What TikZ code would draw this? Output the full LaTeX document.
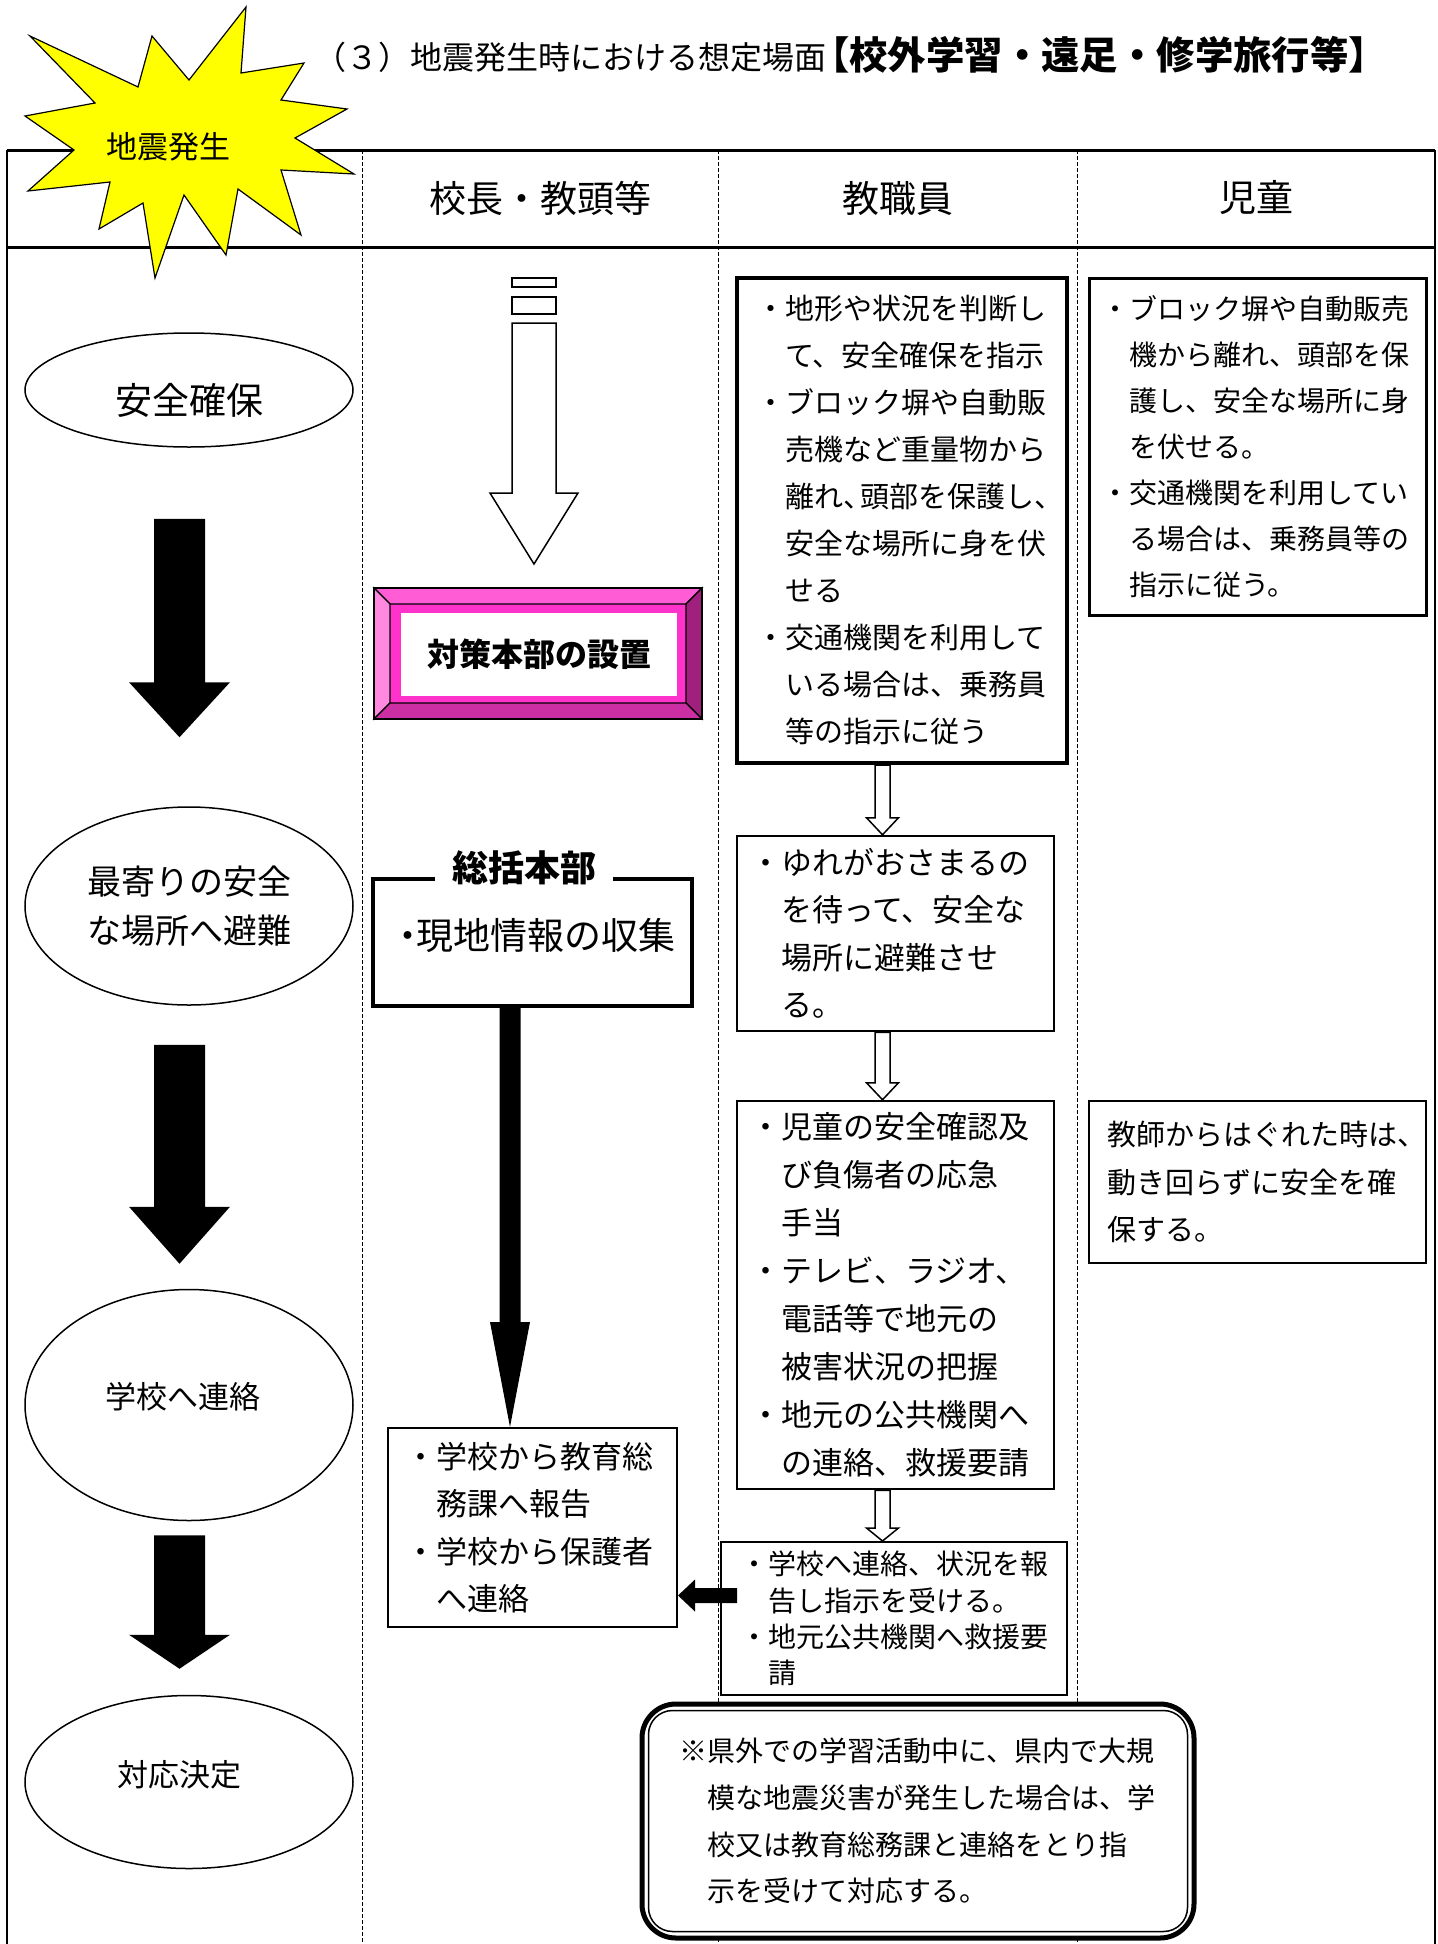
\documentclass[tikz,border=0pt]{standalone}
\usepackage{fontspec}
\setmainfont{Noto Sans CJK JP}
\usetikzlibrary{shapes.geometric,calc}
\definecolor{pkTop}{HTML}{FF5CD6}
\definecolor{pkLeft}{HTML}{FF88E0}
\definecolor{pkRight}{HTML}{A0207E}
\definecolor{pkBot}{HTML}{CC2EA3}
\definecolor{pkFace}{HTML}{FF33CC}
\definecolor{starY}{HTML}{FFFF00}
\newcommand\fs[2]{\fontsize{#1pt}{#2pt}\selectfont}
\newcommand\ind{\hspace*{1em}}
% style, start, end, shaft half, head half, head length
\newcommand\blkdown[6]{%
  \path[#1] let \p1=(#2), \p2=(#3) in
    (\x1-#4,\y1) -- (\x1+#4,\y1) -- (\x1+#4,\y2+#6) -- (\x1+#5,\y2+#6) --
    (\x1,\y2) -- (\x1-#5,\y2+#6) -- (\x1-#4,\y2+#6) -- cycle;}
\newcommand\blkleft[6]{%
  \path[#1] let \p1=(#2), \p2=(#3) in
    (\x1,\y1+#4) -- (\x2+#6,\y1+#4) -- (\x2+#6,\y1+#5) -- (\x2,\y1) --
    (\x2+#6,\y1-#5) -- (\x2+#6,\y1-#4) -- (\x1,\y1-#4) -- cycle;}
\begin{document}
\begin{tikzpicture}[x=0.5pt,y=-0.5pt,
  box/.style={draw, rectangle, align=left, inner ysep=0pt, fill=white},
  ell/.style={ellipse, draw, line width=0.75pt, minimum width=164pt, inner sep=0pt, align=center},
  hdr/.style={font=\fs{18.5}{18.5}},
  sep/.style={line width=0.5pt, dash pattern=on 2pt off 1pt},
  frame/.style={line width=1.3pt},
  blk/.style={fill=black},
  wht/.style={fill=white, draw=black, line width=0.75pt},
  plain/.style={inner sep=0pt, outer sep=0pt}]
\useasboundingbox (0,0) rectangle (1437,1944);
% ---- table
\draw[line width=1.5pt] (7,150) -- (1435,150);
\draw[line width=1.5pt] (7,247) -- (1435,247);
\draw[frame] (7,150) -- (7,1944);
\draw[frame] (1435,150) -- (1435,1944);
\foreach \xx in {362,718,1077} \draw[sep] (\xx,150) -- (\xx,1944);
% ---- title
\node[anchor=west, inner sep=0pt] (title) at (314,55)
  {\fs{16}{16}（３）地震発生時における想定場面\fs{19.2}{19.2}\bfseries\kern-0.4em【校外学習・遠足・修学旅行等】};
% ---- headers
\node[hdr] (H2) at (540,198) {校長・教頭等};
\node[hdr] (H3) at (897.5,198) {教職員};
\node[hdr] (H4) at (1256,198) {児童};
% ---- column 1
\node[ell, minimum height=57pt, text height=24pt, text depth=0pt, font=\fs{18.5}{18.5}] (E1) at (189,390) {安全確保};
\node[ell, minimum height=99pt, font=\fs{17}{24.5}] (E2) at (189,906) {最寄りの安全\\な場所へ避難};
\node[ell, minimum height=115.5pt, text height=3.8pt, text depth=0pt, font=\fs{15.5}{15.5}] (E3) at (189,1405) {学校へ連絡\kern6pt};
\node[ell, minimum height=86.5pt, text height=4.8pt, text depth=0pt, font=\fs{15.5}{15.5}] (E4) at (189,1782) {対応決定\kern10pt};
\blkdown{blk}{[shift={(-4.75pt,-35.5pt)}]E1.south}{[shift={(-4.75pt,34.5pt)}]E2.north}{12.75pt}{25.25pt}{27.5pt}
\blkdown{blk}{[shift={(-4.75pt,-19.5pt)}]E2.south}{[shift={(-4.75pt,12.5pt)}]E3.north}{12.75pt}{25.25pt}{28.5pt}
\blkdown{blk}{[shift={(-4.75pt,-7pt)}]E3.south}{[shift={(-4.75pt,13pt)}]E4.north}{12.75pt}{25.25pt}{17pt}
% ---- column 2
\node[plain, minimum width=164pt, minimum height=65.5pt] (P) at (538,653.5) {};
\fill[pkFace] ([shift={(8pt,-8pt)}]P.north west) rectangle ([shift={(-8pt,8pt)}]P.south east);
\draw[fill=pkTop, line width=0.6pt] (P.north west) -- (P.north east) -- ([shift={(-8pt,-8pt)}]P.north east) -- ([shift={(8pt,-8pt)}]P.north west) -- cycle;
\draw[fill=pkLeft, line width=0.6pt] (P.north west) -- ([shift={(8pt,-8pt)}]P.north west) -- ([shift={(8pt,8pt)}]P.south west) -- (P.south west) -- cycle;
\draw[fill=pkRight, line width=0.6pt] (P.north east) -- (P.south east) -- ([shift={(-8pt,8pt)}]P.south east) -- ([shift={(-8pt,-8pt)}]P.north east) -- cycle;
\draw[fill=pkBot, line width=0.6pt] (P.south west) -- ([shift={(8pt,8pt)}]P.south west) -- ([shift={(-8pt,8pt)}]P.south east) -- (P.south east) -- cycle;
\draw[line width=0.9pt] (P.north west) rectangle (P.south east);
\node[plain, fill=white, minimum width=138pt, minimum height=41.5pt, font=\fs{16}{16}\bfseries] (Pt) at (539,654.5) {対策本部の設置};
% white arrow into P
\coordinate (wTop) at (534,278);
\coordinate (wTip) at ([yshift=12pt]P.north);
\path[wht] (512,278) rectangle (556,287);
\path[wht] (512,297) rectangle (556,314);
\blkdown{wht}{534,323}{wTip -| wTop}{11pt}{22pt}{35.5pt}
% G box
\node[plain, minimum width=159.5pt, text height=35pt, text depth=28.5pt, font=\fs{18.5}{18.5}] (G) at (532.5,942.5) {・\kern-0.25em 現地情報の収集};
\node[font=\fs{18}{18}\bfseries, inner xsep=8.5pt, inner ysep=0pt] (Gt) at (524,868) {総括本部};
\draw[line width=2pt] (G.north -| Gt.west) -- (G.north west) -- (G.south west) -- (G.south east) -- (G.north east) -- (G.north -| Gt.east);
% S box
\node[box, line width=1pt, minimum height=99.5pt, text width=127.5pt, inner xsep=8.5pt, font=\fs{15.5}{23.7}] (S) at (532.5,1527.5)
  {・学校から教育総\\\ind 務課へ報告\\・学校から保護者\\\ind へ連絡};
\coordinate (gs1) at ([xshift=-11.25pt]G.south);
\blkdown{blk}{gs1}{gs1 |- S.north}{5.25pt}{10pt}{52.5pt}
% ---- column 3
\node[box, line width=2pt, minimum height=242.5pt, text width=146pt, inner xsep=9.5pt, font=\fs{14.5}{23.5}] (T1) at (902,520.5)
  {・地形や状況を判断し\\\ind て、安全確保を指示\\・ブロック塀や自動販\\\ind 売機など重量物から\\\ind 離れ、\kern-0.4em 頭部を保護し、\\\ind 安全な場所に身を伏\\\ind せる\\・交通機関を利用して\\\ind いる場合は、乗務員\\\ind 等の指示に従う};
\node[box, line width=1.25pt, minimum height=97.5pt, text width=145.5pt, inner xsep=6.5pt, font=\fs{15.5}{23.7}] (T2) at (895.5,933.5)
  {・ゆれがおさまるの\\\ind を待って、安全な\\\ind 場所に避難させ\\\ind る。};
\node[box, line width=1.25pt, minimum height=194pt, text width=145.5pt, inner xsep=6.5pt, font=\fs{15.5}{24}] (T3) at (895.5,1295)
  {・児童の安全確認及\\\ind び負傷者の応急\\\ind 手当\\・テレビ、ラジオ、\\\ind 電話等で地元の\\\ind 被害状況の把握\\・地元の公共機関へ\\\ind の連絡、救援要請};
\node[box, line width=1pt, minimum height=76.5pt, text width=154pt, inner xsep=9.5pt, font=\fs{14}{18.2}] (T4) at (894,1618.5)
  {・学校へ連絡、状況を報\\\ind 告し指示を受ける。\\・地元公共機関へ救援要\\\ind 請};
\coordinate (cx) at (882.5,0);
\blkdown{wht}{T1.south -| cx}{T2.north -| cx}{3.75pt}{8pt}{8.5pt}
\blkdown{wht}{T2.south -| cx}{T3.north -| cx}{3.75pt}{8pt}{8.5pt}
\blkdown{wht}{T3.south -| cx}{T4.north -| cx}{3.75pt}{8pt}{6.5pt}
\coordinate (ts1) at ([shift={(8.5pt,11.5pt)}]T4.west);
\blkleft{blk}{ts1}{ts1 -| S.east}{3.75pt}{8pt}{8.5pt}
% ---- column 4
\node[box, line width=1.5pt, minimum height=168.5pt, text width=156.5pt, inner xsep=6pt, font=\fs{14}{23}] (C1) at (1257.5,446.5)
  {・ブロック塀や自動販売\\\ind 機から離れ、頭部を保\\\ind 護し、安全な場所に身\\\ind を伏せる。\\・交通機関を利用してい\\\ind る場合は、乗務員等の\\\ind 指示に従う。};
\node[box, line width=1pt, minimum height=81pt, text width=150.5pt, inner xsep=9pt, font=\fs{14.5}{23.75}] (C2) at (1257.5,1182)
  {教師からはぐれた時は、\\動き回らずに安全を確\\保する。};
% ---- note box
\node[draw, line width=2.5pt, rounded corners=17pt, fill=white, minimum height=117pt, text width=239pt, inner xsep=18.5pt, inner ysep=0pt, align=left, font=\fs{14}{23.3}] (R) at (918,1821)
  {※県外での学習活動中に、県内で大規\\\ind 模な地震災害が発生した場合は、学\\\ind 校又は教育総務課と連絡をとり指\\\ind 示を受けて対応する。};
\draw[line width=0.75pt, rounded corners=12pt] ([shift={(4.5pt,-4.5pt)}]R.north west) rectangle ([shift={(-4.5pt,4.5pt)}]R.south east);
% ---- starburst
\draw[fill=starY, line width=0.6pt] (246,7) -- (241,73) -- (304,63) -- (281,100) -- (347,109) -- (295,138) -- (354,174) -- (281,170) -- (301,235) -- (238,189) -- (226,255) -- (184,195) -- (155,278) -- (143,203) -- (99,229) -- (110,182) -- (28,191) -- (74,150) -- (25,116) -- (95,103) -- (30,36) -- (138,87) -- (152,36) -- (189,80) -- cycle;
\node[font=\fs{15.5}{15.5}] (quake) at (168,147) {地震発生};
\end{tikzpicture}
\end{document}
